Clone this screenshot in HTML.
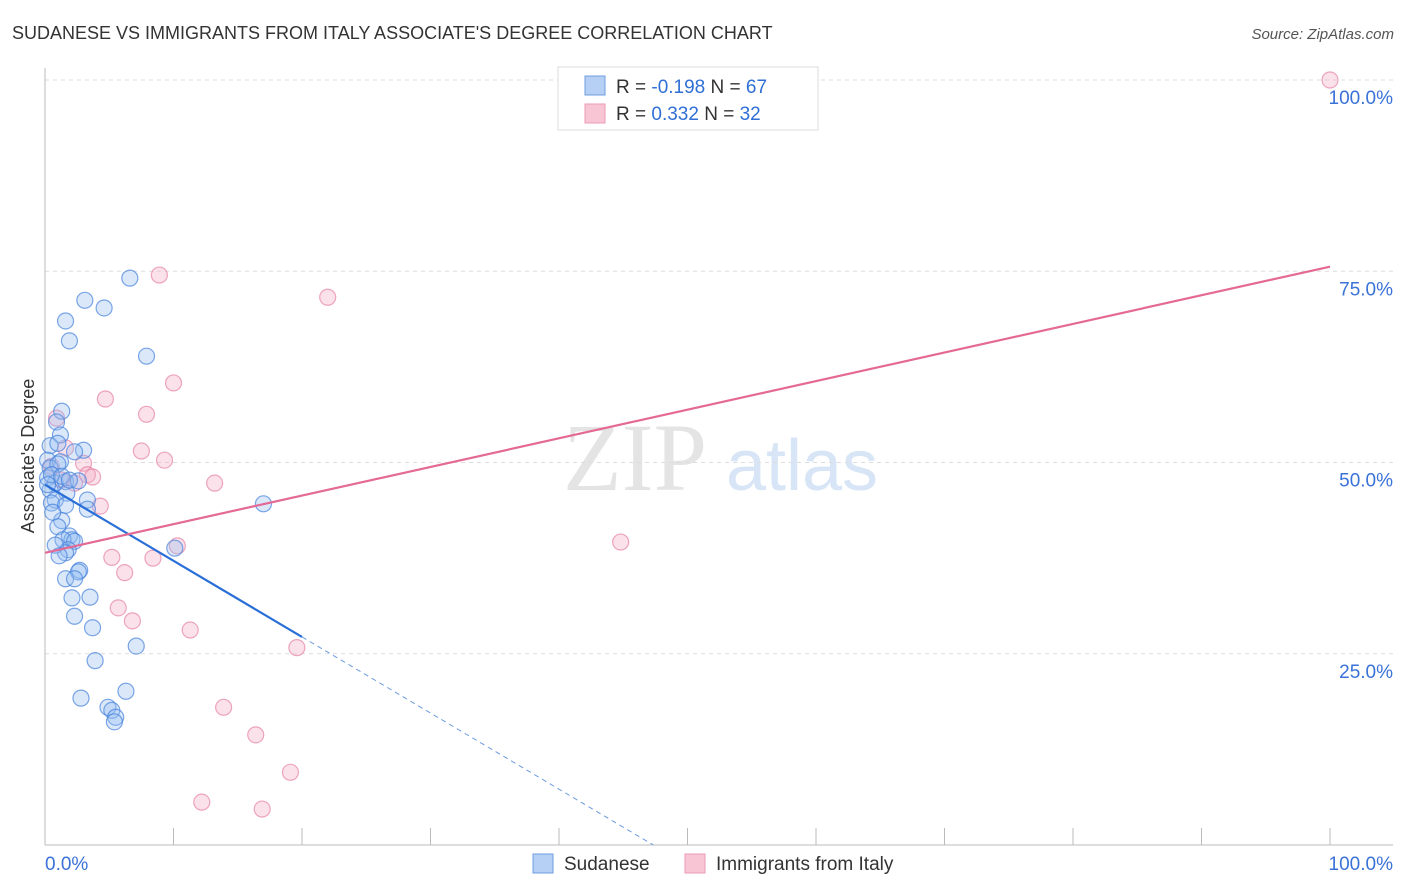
<!DOCTYPE html>
<html><head><meta charset="utf-8"><style>
body{margin:0;background:#fff;font-family:"Liberation Sans",sans-serif;}
svg{display:block}
</style></head><body>
<svg id="chart" width="1406" height="892" font-family="Liberation Sans, sans-serif">
<text x="12" y="39" font-size="18" fill="#333">SUDANESE VS IMMIGRANTS FROM ITALY ASSOCIATE'S DEGREE CORRELATION CHART</text>
<text x="1394" y="39" font-size="15" fill="#555" font-style="italic" text-anchor="end">Source: ZipAtlas.com</text>
<g><text x="635" y="490" font-size="96" fill="#e4e4e4" font-family="Liberation Serif, serif" text-anchor="middle">ZIP</text><text x="802" y="490" font-size="72" fill="#d7e5f6" text-anchor="middle">atlas</text></g>
<g id="grid"></g>
<g id="axes"></g>
<g id="points"></g>
<g id="lines"></g>
<text x="34" y="456" font-size="18" fill="#333" text-anchor="middle" transform="rotate(-90 34 456)">Associate's Degree</text>
<g>
<rect x="558" y="67" width="260" height="63" fill="#fff" stroke="#ddd"/>
<rect x="585" y="76" width="20" height="19" fill="#b6d0f5" stroke="#6e9de0"/>
<rect x="585" y="104" width="20" height="19" fill="#f8c5d5" stroke="#ea9ab5"/>
<text x="616" y="93" font-size="19" fill="#333">R = <tspan fill="#2f6fd6">-0.198</tspan>   N = <tspan fill="#2f6fd6">67</tspan></text>
<text x="616" y="120" font-size="19" fill="#333">R =  <tspan fill="#2f6fd6">0.332</tspan>   N = <tspan fill="#2f6fd6">32</tspan></text>
</g>
<g>
<rect x="533" y="854" width="20" height="19" fill="#b6d0f5" stroke="#6e9de0"/>
<text x="564" y="870" font-size="19" fill="#333">Sudanese</text>
<rect x="685" y="854" width="20" height="19" fill="#f8c5d5" stroke="#ea9ab5"/>
<text x="716" y="870" font-size="19" fill="#333">Immigrants from Italy</text>
</g>
</svg>
<script>
const blueX=[6.6,3.1,4.6,1.6,1.9,7.9,1.3,0.9,1.2,0.4,1.0,3.0,2.3,0.2,1.2,0.4,0.2,0.8,1.6,2.6,0.4,1.7,0.8,3.3,0.5,1.6,3.3,17.0,1.3,1.0,1.9,2.1,1.4,2.3,1.8,1.6,0.8,1.1,10.1,2.7,2.6,1.6,2.3,3.5,2.1,2.3,3.7,7.1,3.9,6.3,2.8,4.9,5.2,5.5,5.4,1.0,0.5,0.2,1.3,1.9,0.6];
const blueY=[74.1,71.2,70.2,68.5,65.9,63.9,56.7,55.3,53.6,52.2,52.5,51.6,51.4,50.3,50.1,49.3,48.0,47.3,47.5,47.6,46.4,46.0,45.1,45.1,44.7,44.4,43.9,44.6,42.4,41.6,40.4,39.9,39.9,39.7,38.6,38.2,39.2,37.8,38.8,35.9,35.7,34.8,34.8,32.4,32.3,29.9,28.4,26.0,24.1,20.1,19.2,18.0,17.6,16.7,16.1,49.8,48.4,47.1,48.2,47.7,43.5];
const pinkX=[100,8.9,22.0,10.0,4.7,7.9,0.9,1.6,7.5,9.3,3.0,3.3,3.7,13.2,4.3,10.3,44.8,5.2,8.4,6.2,5.7,6.8,11.3,19.6,13.9,16.4,19.1,12.2,16.9,0.5,1.3,2.3];
const pinkY=[100,74.5,71.6,60.4,58.3,56.3,55.8,51.9,51.5,50.3,49.9,48.4,48.1,47.3,44.3,39.1,39.6,37.6,37.5,35.6,31.0,29.3,28.1,25.8,18.0,14.4,9.5,5.6,4.7,49.5,47.7,47.3];
const blueTrend=[47.1,27.2];
const pinkTrend=[38.2,75.6];
const yTicks=[25,50,75,100];
const yTickLabels=["25.0%","50.0%","75.0%","100.0%"];
const NS="http://www.w3.org/2000/svg";
const X=v=>45+v*12.85, Y=v=>845-v*7.65;
function mk(t,a,p){const e=document.createElementNS(NS,t);for(const k in a)e.setAttribute(k,a[k]);document.getElementById(p).appendChild(e);return e;}
yTicks.forEach((t,i)=>{
 const g=mk('line',{x1:45,x2:1393,y1:Y(t),y2:Y(t),stroke:'#ddd','stroke-dasharray':'4,4'},'grid');
 
 
 const l=mk('text',{x:1393,y:Y(t)+24,'font-size':19,fill:'#3a72d8','text-anchor':'end'},'axes');
 l.textContent=yTickLabels[i];
 
 
});
const ax=mk('line',{x1:45,x2:1393,y1:845,y2:845,stroke:'#bbb'},'axes');


const ay=mk('line',{x1:45,x2:45,y1:68,y2:845,stroke:'#bbb'},'axes');


for(let k=1;k<=10;k++){const t=mk('line',{x1:X(k*10),x2:X(k*10),y1:845,y2:828,stroke:'#bbb'},'axes');
 
 }
const x0=mk('text',{x:45,y:870,'font-size':19,fill:'#3a72d8'},'axes');x0.textContent='0.0%';


const x1=mk('text',{x:1393,y:870,'font-size':19,fill:'#3a72d8','text-anchor':'end'},'axes');x1.textContent='100.0%';


pinkX.forEach((v,i)=>{const c=mk('circle',{cx:X(v),cy:Y(pinkY[i]),r:8,fill:'rgba(243,168,194,0.35)',stroke:'rgba(230,130,165,0.7)','stroke-width':1.2},'points');
 
 });
blueX.forEach((v,i)=>{const c=mk('circle',{cx:X(v),cy:Y(blueY[i]),r:8,fill:'rgba(150,190,240,0.35)',stroke:'rgba(70,130,220,0.7)','stroke-width':1.2},'points');
 
 });
const bs=(blueTrend[1]-blueTrend[0])/20;
const b1=mk('line',{x1:X(0),y1:Y(blueTrend[0]),x2:X(20),y2:Y(blueTrend[1]),stroke:'#2a6fd8','stroke-width':2.2},'lines');


const xz=-blueTrend[0]/bs;
const b2=mk('line',{x1:X(20),y1:Y(blueTrend[1]),x2:X(xz),y2:Y(0),stroke:'#6b9be0','stroke-width':1,'stroke-dasharray':'5,4'},'lines');


const p1=mk('line',{x1:X(0),y1:Y(pinkTrend[0]),x2:X(100),y2:Y(pinkTrend[1]),stroke:'#e46a95','stroke-width':2.2},'lines');


</script>
</body></html>
